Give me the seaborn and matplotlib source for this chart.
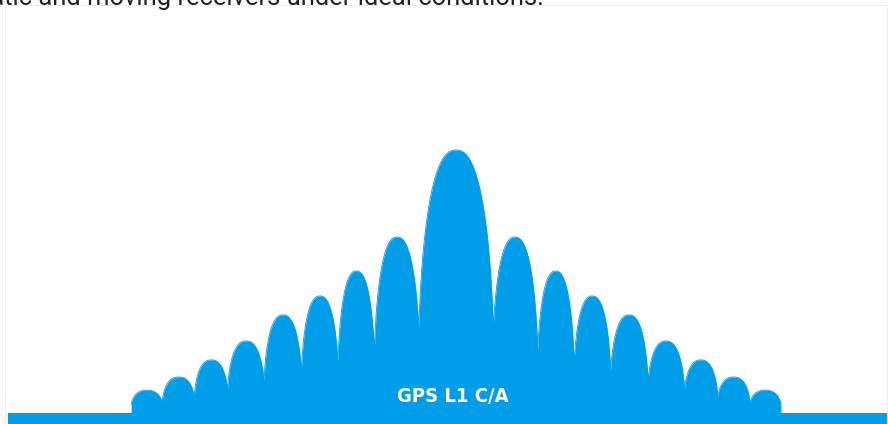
import numpy as np
import pandas as pd
import seaborn as sns
import matplotlib.pyplot as plt
from matplotlib import font_manager
from matplotlib.patches import Rectangle

# spectrum of the GPS L1 C/A signal, x in multiples of the chip rate (1.023 MHz)
lobe_edges = [1.0, 2.23, 3.23, 4.23, 5.25, 6.25, 7.16, 8.04, 8.90]
main_level = 1.0
side_levels = [0.669, 0.540, 0.445, 0.373, 0.274, 0.202, 0.137, 0.087]
signal_label = "GPS L1 C/A"
caption = "static and moving receivers under ideal conditions."
caption_tail = "tic and moving receivers under ideal conditions."

blue = "#009EE9"

sns.set_theme(style="white")
plt.rcParams['font.family'] = ['Roboto', 'DejaVu Sans']

# pick a narrow bold face for the label if one is there
fonts = font_manager.fontManager.ttflist
names = {f.name for f in fonts}
label_kw = dict(fontweight="bold")
narrow = True
if "Liberation Sans Narrow" in names:
    label_kw["family"] = ["Liberation Sans Narrow", "DejaVu Sans"]
elif any(f.name == "DejaVu Sans" and "condensed" in str(f.stretch) for f in fonts):
    label_kw["family"] = ["DejaVu Sans"]
    label_kw["fontstretch"] = "condensed"
else:
    label_kw["family"] = ["Roboto", "DejaVu Sans"]
    narrow = False

# lobes: main lobe + mirrored side lobes
centers = [0.0]
halfw = [lobe_edges[0]]
levels = [main_level]
for k, lv in enumerate(side_levels):
    c = (lobe_edges[k] + lobe_edges[k + 1]) / 2
    w = (lobe_edges[k + 1] - lobe_edges[k]) / 2
    for s in (-1, 1):
        centers.append(s * c)
        halfw.append(w)
        levels.append(lv)

x = np.linspace(-lobe_edges[-1], lobe_edges[-1], 6000)
env = np.zeros_like(x)
n_exp = 2.4
overlap = 1.05
for c, w, lv in zip(centers, halfw, levels):
    u = np.abs(x - c) / (w * overlap)
    prof = lv * np.clip(1 - u ** n_exp, 0, None) ** (1 / n_exp)
    env = np.maximum(env, prof)
df = pd.DataFrame({"offset": x, "level": env})

fig = plt.figure(figsize=(8.88, 4.24), dpi=100)
ax = fig.add_axes([0, 0, 1, 1])
ax.set_xlim(-456 / 36.5, (888 - 456) / 36.5)
ax.set_ylim(-11 / 263, 413 / 263)

ax.fill_between(df["offset"], 0, df["level"], color=blue, linewidth=0)
sns.lineplot(data=df, x="offset", y="level", ax=ax, color=blue, linewidth=0.6)
# base band
ax.fill_between([(8 - 456) / 36.5, 20], -1, 0.001, color=blue, linewidth=0)

ax.set_axis_off()

# light frame
fig.patches.append(Rectangle((5 / 888, -0.1), 882 / 888, 1.1 - 5 / 424,
                             transform=fig.transFigure, fill=False,
                             edgecolor="#eeeeee", linewidth=0.8))

# fit label width, caption tail to ~540 px
fig.canvas.draw()
probe = fig.text(0, 0, signal_label, fontsize=18, **label_kw)
lw = probe.get_window_extent(fig.canvas.get_renderer()).width
probe.remove()
target = 112 if narrow else 124
lab_fs = min(18 * target / lw, 18)
ax.text(-0.1, 17 / 263, signal_label, color="white", ha="center", va="center",
        fontsize=lab_fs, **label_kw)

fs = 15
probe = fig.text(0, 0, caption_tail, fontsize=fs)
wpx = probe.get_window_extent(fig.canvas.get_renderer()).width
probe.remove()
fs = fs * 540 / wpx
fig.text(544 / 888, 1 - 5 / 424, caption, fontsize=fs, color="#222222",
         ha="right", va="baseline")

fig.savefig("out.png", dpi=100)
